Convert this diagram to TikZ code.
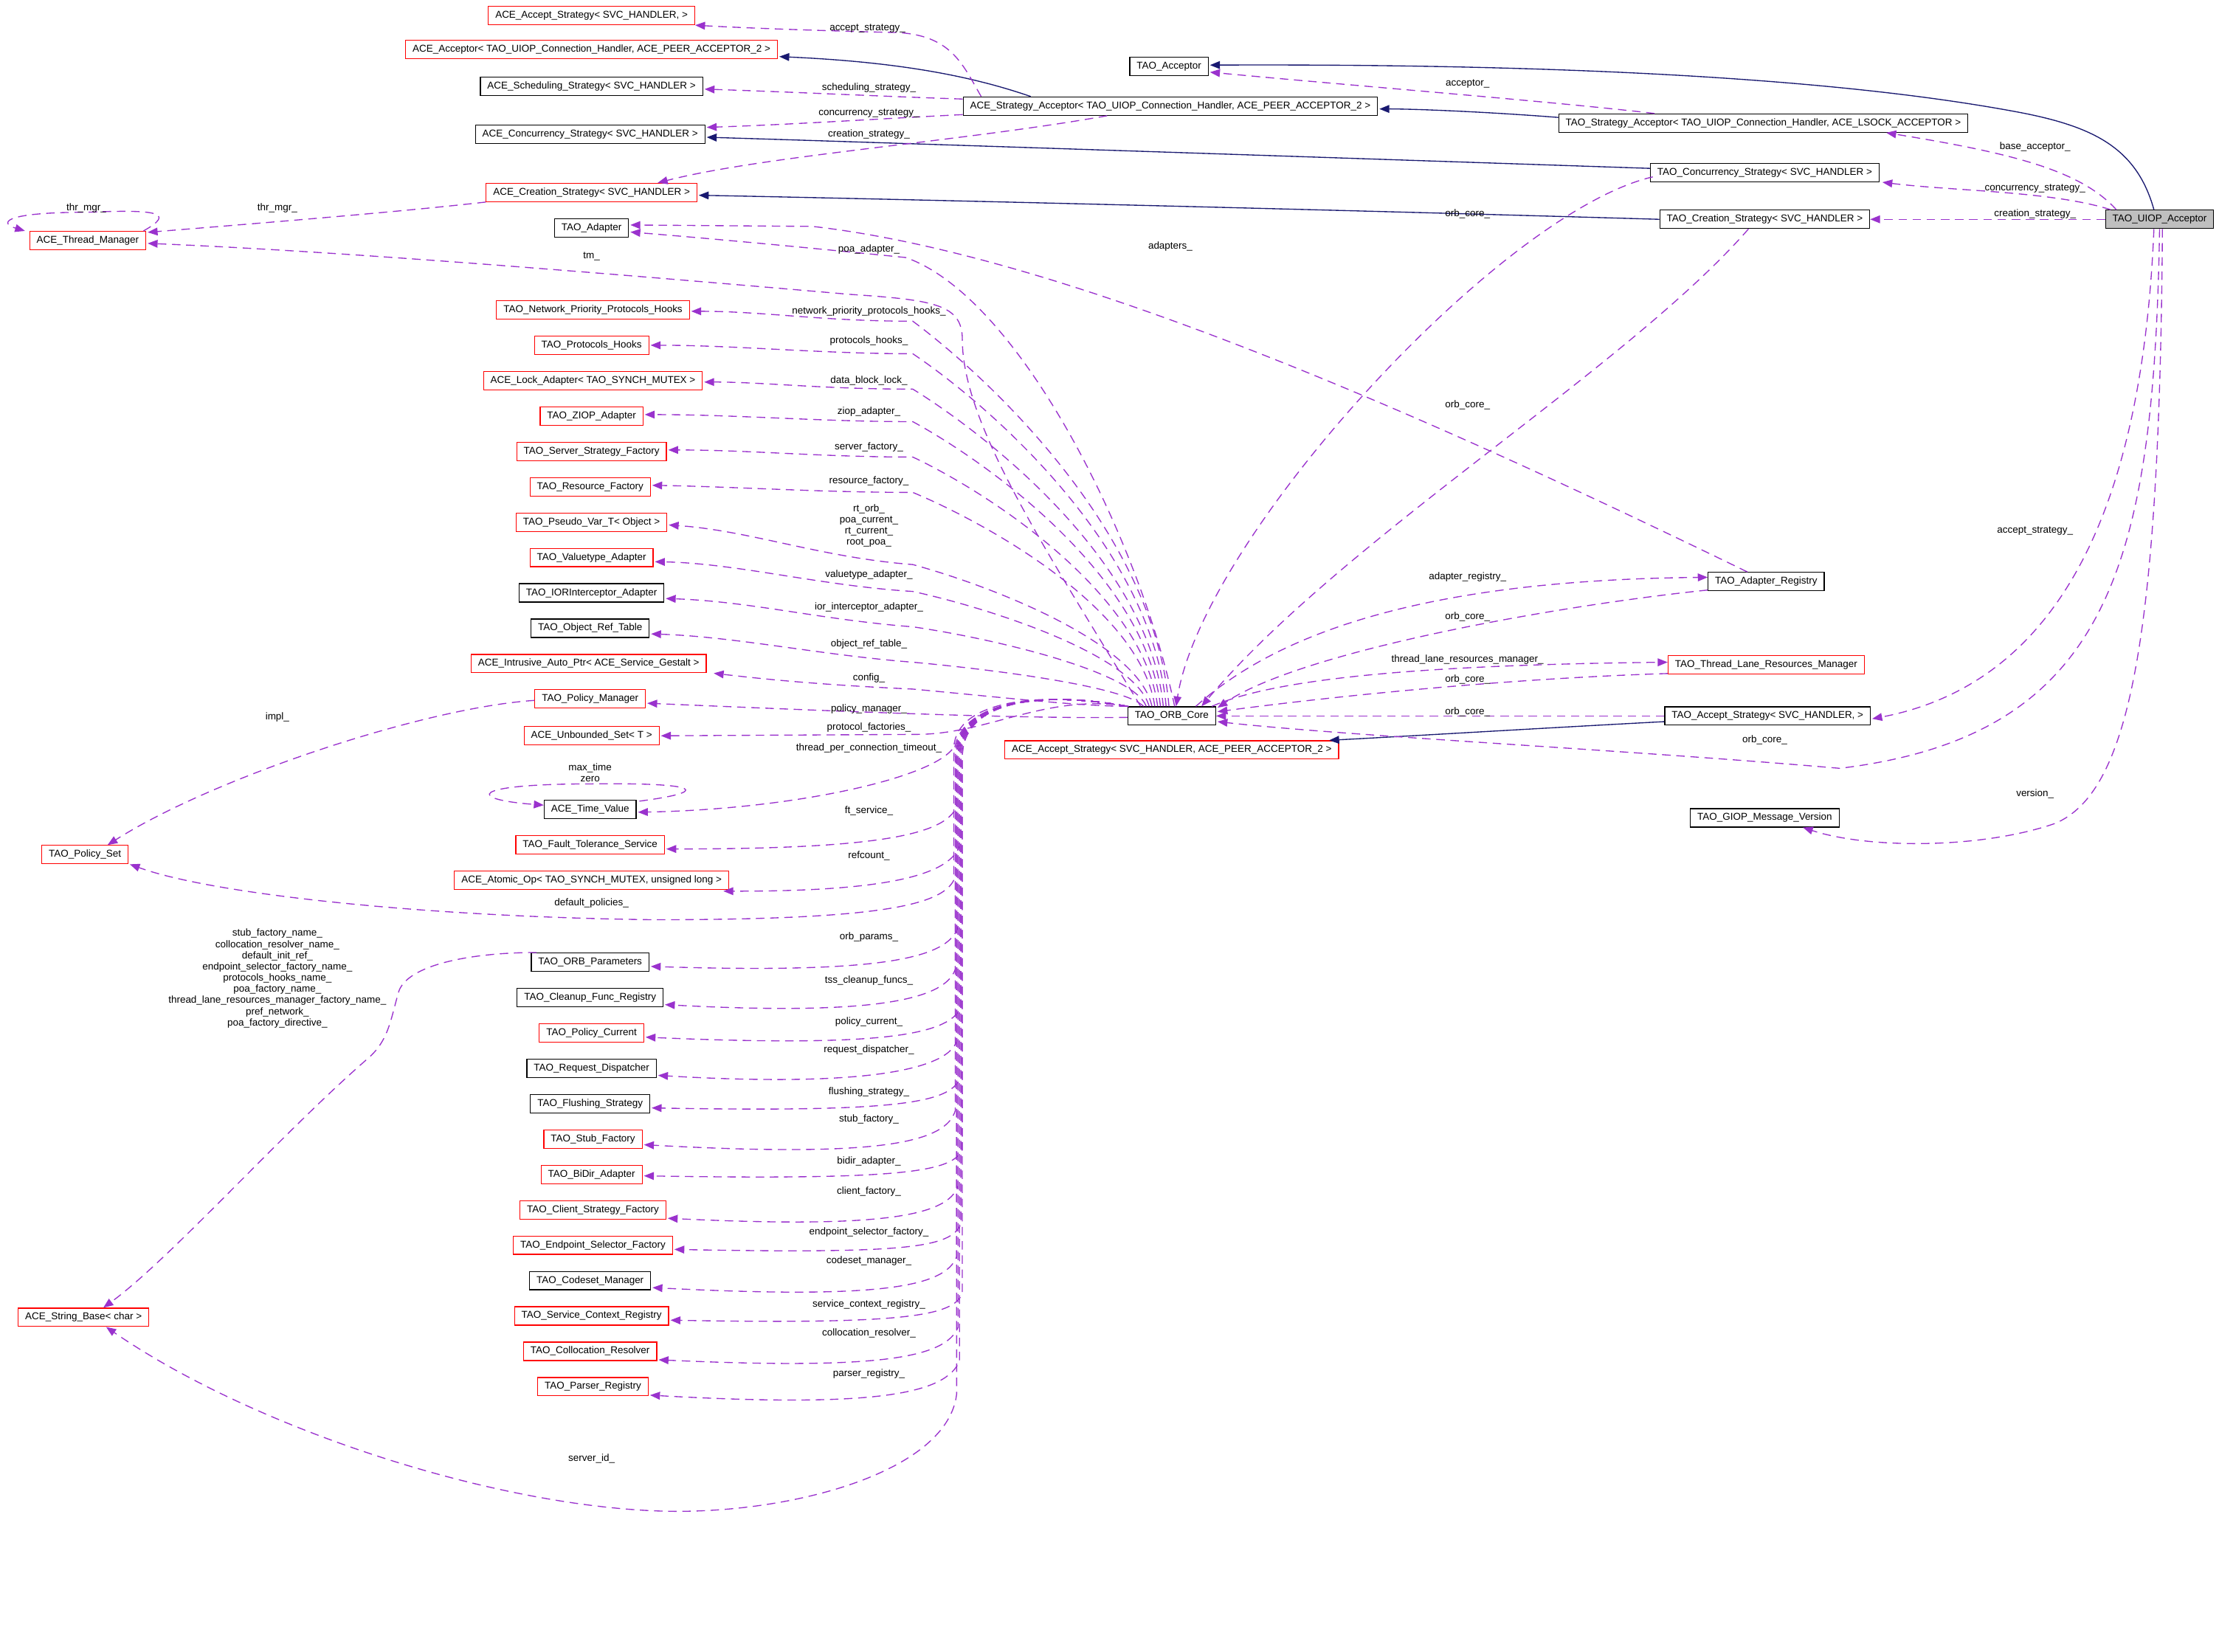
\documentclass[tikz,border=0pt]{standalone}
\usepackage{fontspec}
\setmainfont{Liberation Sans}
\usepackage{tikz}
\usetikzlibrary{calc, arrows.meta}

\definecolor{inhblue}{HTML}{191970}
\definecolor{usepurple}{HTML}{9A32CD}
\definecolor{curgray}{HTML}{BFBFBF}

\begin{document}
\begin{tikzpicture}[x=0.02cm, y=-0.02cm,
    box/.style={draw, line width=0.35pt, inner xsep=2.8pt, inner ysep=0pt, minimum height=0.26cm, font=\fontsize{4.0}{4.5}\selectfont},
    cls/.style={box, draw=black},
    undoc/.style={box, draw=red},
    cur/.style={box, draw=black, fill=curgray},
    rel/.style={inner sep=0pt, align=center, font=\fontsize{4.0}{4.5}\selectfont},
    inherit/.style={draw=inhblue, line width=0.4pt, -{Triangle[length=1.4mm, width=1.1mm]}},
    member/.style={draw=usepurple, line width=0.4pt, dash pattern=on 1.2mm off 0.8mm, -{Triangle[length=1.4mm, width=1.1mm]}}]
      \useasboundingbox (0,0) rectangle (1568,1167.5);

      % classes, top block
      \node[undoc] (aasone)  at (418,11)  {ACE\_Accept\_Strategy< SVC\_HANDLER, >};
      \node[undoc] (aacc)    at (418,35)  {ACE\_Acceptor< TAO\_UIOP\_Connection\_Handler, ACE\_PEER\_ACCEPTOR\_2 >};
      \node[cls]   (asched)  at (418,61)  {ACE\_Scheduling\_Strategy< SVC\_HANDLER >};
      \node[cls]   (aconc)   at (417,95)  {ACE\_Concurrency\_Strategy< SVC\_HANDLER >};
      \node[undoc] (acreat)  at (418,136) {ACE\_Creation\_Strategy< SVC\_HANDLER >};
      \node[cls]   (tadapt)  at (418,161) {TAO\_Adapter};
      \node[undoc] (athr)    at (62,170)  {ACE\_Thread\_Manager};
      \node[cls]   (tacc)    at (826,47)  {TAO\_Acceptor};
      \node[cls]   (asacc)   at (827,75)  {ACE\_Strategy\_Acceptor< TAO\_UIOP\_Connection\_Handler, ACE\_PEER\_ACCEPTOR\_2 >};
      \node[cls]   (tsacc)   at (1246,87) {TAO\_Strategy\_Acceptor< TAO\_UIOP\_Connection\_Handler, ACE\_LSOCK\_ACCEPTOR >};
      \node[cls]   (tconc)   at (1247,122) {TAO\_Concurrency\_Strategy< SVC\_HANDLER >};
      \node[cls]   (tcreat)  at (1247,155) {TAO\_Creation\_Strategy< SVC\_HANDLER >};
      \node[cur]   (uiop)    at (1526,155) {TAO\_UIOP\_Acceptor};

      % classes, left column
      \node[undoc] (netprio) at (419,219) {TAO\_Network\_Priority\_Protocols\_Hooks};
      \node[undoc] (phooks)  at (418,244) {TAO\_Protocols\_Hooks};
      \node[undoc] (lockad)  at (419,269) {ACE\_Lock\_Adapter< TAO\_SYNCH\_MUTEX >};
      \node[undoc] (ziop)    at (418,294) {TAO\_ZIOP\_Adapter};
      \node[undoc] (ssfact)  at (418,319) {TAO\_Server\_Strategy\_Factory};
      \node[undoc] (rfact)   at (417,344) {TAO\_Resource\_Factory};
      \node[undoc] (pseudo)  at (418,369) {TAO\_Pseudo\_Var\_T< Object >};
      \node[undoc] (valtype) at (418,394) {TAO\_Valuetype\_Adapter};
      \node[cls]   (iorint)  at (418,419) {TAO\_IORInterceptor\_Adapter};
      \node[cls]   (objref)  at (417,444) {TAO\_Object\_Ref\_Table};
      \node[undoc] (intrus)  at (416,469) {ACE\_Intrusive\_Auto\_Ptr< ACE\_Service\_Gestalt >};
      \node[undoc] (polman)  at (417,494) {TAO\_Policy\_Manager};
      \node[undoc] (unbset)  at (418,520) {ACE\_Unbounded\_Set< T >};
      \node[cls]   (timev)   at (417,572) {ACE\_Time\_Value};
      \node[undoc] (ftserv)  at (417,597) {TAO\_Fault\_Tolerance\_Service};
      \node[undoc] (atomic)  at (418,622) {ACE\_Atomic\_Op< TAO\_SYNCH\_MUTEX, unsigned long >};
      \node[undoc] (polset)  at (60,604)  {TAO\_Policy\_Set};
      \node[cls]   (orbpar)  at (417,680) {TAO\_ORB\_Parameters};
      \node[cls]   (cleanup) at (417,705) {TAO\_Cleanup\_Func\_Registry};
      \node[undoc] (polcur)  at (418,730) {TAO\_Policy\_Current};
      \node[cls]   (reqdisp) at (418,755) {TAO\_Request\_Dispatcher};
      \node[cls]   (flush)   at (417,780) {TAO\_Flushing\_Strategy};
      \node[undoc] (stubf)   at (419,805) {TAO\_Stub\_Factory};
      \node[undoc] (bidir)   at (418,830) {TAO\_BiDir\_Adapter};
      \node[undoc] (clientf) at (419,855) {TAO\_Client\_Strategy\_Factory};
      \node[undoc] (endsel)  at (419,880) {TAO\_Endpoint\_Selector\_Factory};
      \node[cls]   (codeset) at (417,905) {TAO\_Codeset\_Manager};
      \node[undoc] (svcctx)  at (418,930) {TAO\_Service\_Context\_Registry};
      \node[undoc] (colloc)  at (417,955) {TAO\_Collocation\_Resolver};
      \node[undoc] (parser)  at (419,980) {TAO\_Parser\_Registry};
      \node[undoc] (strbase) at (59,931)  {ACE\_String\_Base< char >};

      % classes, centre and right
      \node[cls]   (orbcore) at (828,506)  {TAO\_ORB\_Core};
      \node[undoc] (aastwo)  at (828,530)  {ACE\_Accept\_Strategy< SVC\_HANDLER, ACE\_PEER\_ACCEPTOR\_2 >};
      \node[cls]   (adreg)   at (1248,411) {TAO\_Adapter\_Registry};
      \node[undoc] (tlrm)    at (1248,470) {TAO\_Thread\_Lane\_Resources\_Manager};
      \node[cls]   (tas)     at (1249,506) {TAO\_Accept\_Strategy< SVC\_HANDLER, >};
      \node[cls]   (giop)    at (1247,578) {TAO\_GIOP\_Message\_Version};

      % inheritance
      \draw[inherit] ($(asacc.north west)+(48,0)$) .. controls (690,55) and (640,44) .. ($(aacc.east)+(1,5)$);
      \draw[inherit] ($(tsacc.west)+(0,-4)$) .. controls (1050,79) and (1000,77) .. ($(asacc.east)+(1,2)$);
      \draw[inherit] ($(uiop.north)+(-4,0)$) .. controls (1510,105) and (1480,90) .. (1430,80) .. controls (1300,55) and (1100,45) .. ($(tacc.east)+(1,-1)$);
      \draw[inherit] ($(tconc.west)+(0,-3)$) .. controls (900,110) and (600,100) .. ($(aconc.east)+(1,2)$);
      \draw[inherit] (tcreat.west) .. controls (900,147) and (600,140) .. ($(acreat.east)+(1,2)$);
      \draw[inherit] ($(tas.west)+(0,4)$) .. controls (1100,514) and (1000,520) .. ($(aastwo.north east)+(-7,0)$);

      % members of the strategy acceptors
      \draw[member] ($(asacc.north west)+(13,0)$) .. controls (680,45) and (672,25) .. (634,23) .. controls (590,22) and (530,20) .. (aasone.south east);
      \draw[member] ($(asacc.west)+(0,-5)$) .. controls (620,68) and (560,65) .. ($(asched.east)+(1,2)$);
      \draw[member] ($(asacc.west)+(0,6)$) .. controls (620,84) and (560,88) .. ($(aconc.east)+(1,-5)$);
      \draw[member] ($(asacc.south west)+(102,0)$) .. controls (680,100) and (540,110) .. ($(acreat.north east)+(-28,0)$);
      \draw[member] ($(tsacc.north west)+(68,0)$) .. controls (1100,72) and (950,60) .. ($(tacc.east)+(1,4)$);
      \node[rel] (laccs) at (613,20)  {accept\_strategy\_};
      \node[rel] (lsched) at (614,62) {scheduling\_strategy\_};
      \node[rel] (lconc) at (614,80)  {concurrency\_strategy\_};
      \node[rel] (lcreat) at (614,95) {creation\_strategy\_};
      \node[rel] (lacc) at (1037,59)  {acceptor\_};

      % members of TAO_UIOP_Acceptor
      \draw[member] ($(uiop.north west)+(8,0)$) .. controls (1470,120) and (1420,108) .. ($(tsacc.south east)+(-58,0)$);
      \draw[member] ($(uiop.north west)+(4,0)$) .. controls (1450,135) and (1380,135) .. ($(tconc.south east)+(2,0)$);
      \draw[member] (uiop.west) -- (tcreat.east);
      \draw[member] ($(uiop.south)+(-4,0)$) .. controls (1515,330) and (1470,480) .. ($(tas.east)+(1,2)$);
      \draw[member] (uiop.south) .. controls (1522,400) and (1490,520) .. (1300,543) .. controls (1150,530) and (950,520) .. ($(orbcore.east)+(1,4)$);
      \draw[member] ($(uiop.south)+(2,0)$) .. controls (1526,450) and (1505,560) .. (1452,582) .. controls (1400,600) and (1320,600) .. ($(giop.south)+(27,0)$);
      \node[rel] (lbase) at (1438,104)  {base\_acceptor\_};
      \node[rel] (luconc) at (1438,133) {concurrency\_strategy\_};
      \node[rel] (lucreat) at (1438,151) {creation\_strategy\_};
      \node[rel] (luaccs) at (1438,375) {accept\_strategy\_};
      \node[rel] (luorb) at (1247,523)  {orb\_core\_};
      \node[rel] (lver) at (1438,561)   {version\_};

      % thread manager
      \draw[member] (acreat.south west) .. controls (280,150) and (180,158) .. ($(athr.north east)+(1,1)$);
      \draw[member] ($(athr.north east)+(-2,0)$) .. controls (125,150) and (110,148) .. (62,150) .. controls (0,150) and (0,158) .. ($(athr.north west)+(-3,0)$);
      \node[rel] (lthr) at (196,147)  {thr\_mgr\_};
      \node[rel] (lthrs) at (61,147)  {thr\_mgr\_};

      % links back to TAO_ORB_Core
      \draw[member] ($(tconc.west)+(2,3)$) .. controls (1060,150) and (850,380) .. ($(orbcore.north)+(3,0)$);
      \draw[member] ($(tcreat.south west)+(63,0)$) .. controls (1150,260) and (950,380) .. ($(orbcore.north)+(21,0)$);
      \draw[member] ($(orbcore.north)+(17,0)$) .. controls (900,450) and (1000,410) .. ($(adreg.west)+(0,-3)$);
      \draw[member] ($(adreg.west)+(0,6)$) .. controls (1100,428) and (920,460) .. ($(orbcore.north east)+(1,1)$);
      \draw[member] ($(orbcore.north east)+(-3,0)$) .. controls (900,480) and (1000,470) .. ($(tlrm.west)+(0,-2)$);
      \draw[member] ($(tlrm.west)+(0,6)$) .. controls (1050,480) and (920,495) .. ($(orbcore.east)+(1,-3)$);
      \draw[member] (tas.west) -- (orbcore.east);
      \draw[member] ($(adreg.north west)+(28,0)$) .. controls (1000,290) and (750,180) .. (574,160) -- ($(tadapt.east)+(1,-2)$);
      \node[rel] (ltcorb) at (1037,151) {orb\_core\_};
      \node[rel] (ltrorb) at (1037,286) {orb\_core\_};
      \node[rel] (lareg) at (1037,408)  {adapter\_registry\_};
      \node[rel] (laorb) at (1037,436)  {orb\_core\_};
      \node[rel] (ltlrm) at (1037,466)  {thread\_lane\_resources\_manager\_};
      \node[rel] (llorb) at (1037,480)  {orb\_core\_};
      \node[rel] (lsorb) at (1037,503)  {orb\_core\_};
      \node[rel] (ladapters) at (827,174) {adapters\_};

      % TAO_ORB_Core, upper fan
      \draw[member] ($(orbcore.north)+(-22,0)$) .. controls (740,390) and (680,300) .. (680,240) .. controls (680,215) and (660,212) .. (600,208) .. controls (450,195) and (250,178) .. ($(athr.east)+(1,2)$);  %tm
      \draw[member] ($(orbcore.north)+(2,0)$) .. controls (805,380) and (720,210) .. (640,182) .. controls (600,178) and (520,170) .. ($(tadapt.east)+(1,3)$);  %poa
      \draw[member] ($(orbcore.north)+(-2,0)$)  .. controls (816,377) and (700,268) .. (645,227) .. controls (580,227) and (540,220) .. ($(netprio.east)+(1,1)$);
      \draw[member] ($(orbcore.north)+(-4,0)$)  .. controls (814,387) and (700,287) .. (645,250) .. controls (580,250) and (520,244) .. ($(phooks.east)+(1,0)$);
      \draw[member] ($(orbcore.north)+(-6,0)$)  .. controls (812,398) and (700,309) .. (645,275) .. controls (580,275) and (540,270) .. ($(lockad.east)+(1,1)$);
      \draw[member] ($(orbcore.north)+(-8,0)$)  .. controls (810,408) and (700,328) .. (645,298) .. controls (580,298) and (520,293) .. ($(ziop.east)+(1,-1)$);
      \draw[member] ($(orbcore.north)+(-10,0)$) .. controls (808,420) and (700,349) .. (645,323) .. controls (580,323) and (530,318) .. ($(ssfact.east)+(1,-1)$);
      \draw[member] ($(orbcore.north)+(-12,0)$) .. controls (806,431) and (700,371) .. (645,348) .. controls (580,348) and (520,344) .. ($(rfact.east)+(1,-1)$);
      \draw[member] ($(orbcore.north)+(-14,0)$) .. controls (804,454) and (700,414) .. (645,399) .. controls (580,394) and (530,375) .. ($(pseudo.east)+(1,2)$);
      \draw[member] ($(orbcore.north)+(-16,0)$) .. controls (802,463) and (700,430) .. (645,418) .. controls (580,414) and (520,398) .. ($(valtype.east)+(1,3)$);
      \draw[member] ($(orbcore.north)+(-18,0)$) .. controls (800,474) and (700,451) .. (645,443) .. controls (580,438) and (530,425) .. ($(iorint.east)+(1,4)$);
      \draw[member] ($(orbcore.north)+(-20,0)$) .. controls (795,485) and (700,473) .. (645,468) .. controls (580,463) and (520,450) .. ($(objref.east)+(1,4)$);
      \draw[member] (orbcore.north west) .. controls (760,499) and (700,492) .. (645,487) .. controls (580,484) and (540,480) .. ($(intrus.south east)+(5,0)$);  %config
      \node[rel] (ltm) at (418,181)     {tm\_};
      \node[rel] (lpoa) at (614,176)    {poa\_adapter\_};
      \node[rel] (lnet) at (614,220)    {network\_priority\_protocols\_hooks\_};
      \node[rel] (lphk) at (614,241)    {protocols\_hooks\_};
      \node[rel] (llock) at (614,269)   {data\_block\_lock\_};
      \node[rel] (lziop) at (614,291)   {ziop\_adapter\_};
      \node[rel] (lssf) at (614,316)    {server\_factory\_};
      \node[rel] (lrf) at (614,340)     {resource\_factory\_};
      \node[rel] (lpseudo) at (614,371.5) {rt\_orb\_\\poa\_current\_\\rt\_current\_\\root\_poa\_};
      \node[rel] (lval) at (614,406)    {valuetype\_adapter\_};
      \node[rel] (lior) at (614,429)    {ior\_interceptor\_adapter\_};
      \node[rel] (lobj) at (614,455)    {object\_ref\_table\_};
      \node[rel] (lconf) at (614,479)   {config\_};

      % TAO_ORB_Core, lower bundle
      \draw[member] ($(orbcore.west)+(0,1)$) .. controls (720,508) and (600,503) .. ($(polman.east)+(1,3)$);
      \draw[member] ($(orbcore.north west)+(1,0)$) .. controls (740,490) and (700,518) .. (650,519) -- ($(unbset.east)+(1,0)$);
      \draw[member] (orbcore.north west) .. controls (735,488) and (676,495) .. (674,528) .. controls (660,550) and (560,572) .. ($(timev.east)+(1,2)$);
      \draw[member] (orbcore.north west) .. controls (735,488) and (676,495) .. (676,535) -- (676,570) .. controls (668,590) and (620,600) .. ($(ftserv.east)+(1,3)$);
      \draw[member] (orbcore.north west) .. controls (735,488) and (678,495) .. (678,535) -- (678,598) .. controls (670,620) and (620,630) .. ($(atomic.south east)+(-4,1)$);
      \draw[member] (orbcore.north west) .. controls (735,488) and (674,495) .. (674,535) -- (674,622) .. controls (665,640) and (620,650) .. (462,650) .. controls (300,648) and (150,632) .. ($(polset.south east)+(1,0)$);
      \draw[member] (orbcore.north west) .. controls (735,488) and (677,495) .. (677,535) -- (677,655) .. controls (670,678) and (620,688) .. ($(orbpar.east)+(1,3)$);
      \draw[member] (orbcore.north west) .. controls (735,488) and (675,495) .. (675,535) -- (675,685) .. controls (668,706) and (620,718) .. ($(cleanup.east)+(1,5)$);
      \draw[member] (orbcore.north west) .. controls (735,488) and (679,495) .. (679,535) -- (679,712) .. controls (670,732) and (620,740) .. ($(polcur.east)+(1,3)$);
      \draw[member] (orbcore.north west) .. controls (735,488) and (676,495) .. (676,535) -- (676,736) .. controls (668,758) and (600,768) .. ($(reqdisp.east)+(1,5)$);
      \draw[member] (orbcore.north west) .. controls (735,488) and (678,495) .. (678,535) -- (678,762) .. controls (672,780) and (630,786) .. ($(flush.east)+(1,3)$);
      \draw[member] (orbcore.north west) .. controls (735,488) and (675,495) .. (675,535) -- (675,785) .. controls (668,808) and (620,818) .. ($(stubf.east)+(1,4)$);
      \draw[member] (orbcore.north west) .. controls (735,488) and (680,495) .. (680,535) -- (680,812) .. controls (674,828) and (640,834) .. ($(bidir.east)+(1,1)$);
      \draw[member] (orbcore.north west) .. controls (735,488) and (677,495) .. (677,535) -- (677,838) .. controls (670,860) and (620,868) .. ($(clientf.east)+(1,6)$);
      \draw[member] (orbcore.north west) .. controls (735,488) and (679,495) .. (679,535) -- (679,865) .. controls (672,882) and (640,886) .. ($(endsel.east)+(1,3)$);
      \draw[member] (orbcore.north west) .. controls (735,488) and (676,495) .. (676,535) -- (676,888) .. controls (668,910) and (620,918) .. ($(codeset.east)+(1,5)$);
      \draw[member] (orbcore.north west) .. controls (735,488) and (680,495) .. (680,535) -- (680,914) .. controls (674,930) and (640,936) .. ($(svcctx.east)+(1,3)$);
      \draw[member] (orbcore.north west) .. controls (735,488) and (677,495) .. (677,535) -- (677,938) .. controls (668,960) and (620,968) .. ($(colloc.east)+(1,6)$);
      \draw[member] (orbcore.north west) .. controls (735,488) and (678,495) .. (678,535) -- (678,962) .. controls (668,985) and (620,995) .. ($(parser.east)+(1,6)$);
      \draw[member] (orbcore.north west) .. controls (735,488) and (676,495) .. (676,535) -- (676,985) .. controls (670,1040) and (560,1070) .. (470,1068) .. controls (350,1065) and (180,1010) .. ($(strbase.south)+(16,0)$);  %server_id
      \node[rel] (lpm) at (614,501)     {policy\_manager\_};
      \node[rel] (lpf) at (614,514)     {protocol\_factories\_};
      \node[rel] (ltpc) at (614,529)    {thread\_per\_connection\_timeout\_};
      \node[rel] (lft) at (614,573)     {ft\_service\_};
      \node[rel] (lref) at (614,605)    {refcount\_};
      \node[rel] (ldefp) at (418,638)   {default\_policies\_};
      \node[rel] (lopar) at (614,662)   {orb\_params\_};
      \node[rel] (ltss) at (614,693)    {tss\_cleanup\_funcs\_};
      \node[rel] (lpcur) at (614,722)   {policy\_current\_};
      \node[rel] (lreq) at (614,742)    {request\_dispatcher\_};
      \node[rel] (lflush) at (614,772)  {flushing\_strategy\_};
      \node[rel] (lstub) at (614,791)   {stub\_factory\_};
      \node[rel] (lbidir) at (614,821)  {bidir\_adapter\_};
      \node[rel] (lclient) at (614,842) {client\_factory\_};
      \node[rel] (lend) at (614,871)    {endpoint\_selector\_factory\_};
      \node[rel] (lcode) at (614,891)   {codeset\_manager\_};
      \node[rel] (lsvc) at (614,922)    {service\_context\_registry\_};
      \node[rel] (lcoll) at (614,942)   {collocation\_resolver\_};
      \node[rel] (lpars) at (614,971)   {parser\_registry\_};
      \node[rel] (lsid) at (418,1031)   {server\_id\_};

      % remaining members
      \draw[member] ($(timev.north east)+(2,1)$) .. controls (500,560) and (500,553) .. (418,554) .. controls (330,554) and (330,565) .. ($(timev.west)+(0,-3)$);
      \draw[member] ($(polman.west)+(0,1)$) .. controls (300,500) and (150,550) .. ($(polset.north)+(16,0)$);
      \draw[member] ($(orbpar.north west)+(4,0)$) .. controls (340,673) and (290,680) .. (282,700) .. controls (276,720) and (275,735) .. (260,748) .. controls (200,800) and (120,890) .. ($(strbase.north)+(14,0)$);
      \node[rel] (ltime) at (417,546)   {max\_time\\zero};
      \node[rel] (limpl) at (196,507)   {impl\_};
      \node[rel] (lnames) at (196,691.5) {stub\_factory\_name\_\\collocation\_resolver\_name\_\\default\_init\_ref\_\\endpoint\_selector\_factory\_name\_\\protocols\_hooks\_name\_\\poa\_factory\_name\_\\thread\_lane\_resources\_manager\_factory\_name\_\\pref\_network\_\\poa\_factory\_directive\_};
    \end{tikzpicture}
\end{document}
